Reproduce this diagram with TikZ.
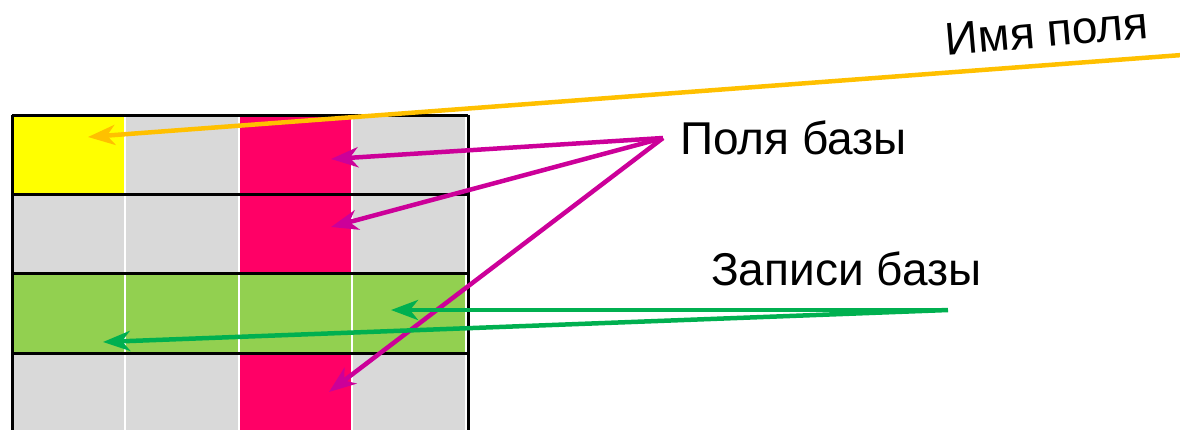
\documentclass[tikz,border=0pt]{standalone}
\usepackage{fontspec}
\setmainfont{Liberation Sans}
\usetikzlibrary{arrows.meta}
\definecolor{cgray}{HTML}{D9D9D9}
\definecolor{cyel}{HTML}{FFFF00}
\definecolor{cpink}{HTML}{FF0066}
\definecolor{cgreen}{HTML}{92D050}
\definecolor{corange}{HTML}{FFC000}
\definecolor{cmag}{HTML}{CC0099}
\definecolor{cgarrow}{HTML}{00B050}
\tikzset{
  cell/.style={draw=white, line width=2pt},
  rowline/.style={draw=black, line width=3pt},
  lbl/.style={inner sep=0pt, font=\fontsize{46pt}{50pt}\selectfont},
  tip/.style={-{Stealth[length=27pt, width=20pt, inset=8pt]}},
  oarr/.style={tip, draw=corange, line width=4.5pt},
  marr/.style={tip, draw=cmag, line width=4.5pt},
  garr/.style={tip, draw=cgarrow, line width=4.5pt},
}
\begin{document}
\begin{tikzpicture}[x=1pt, y=-1pt]
\useasboundingbox (0,0) rectangle (1180,429);
\clip (0,0) rectangle (1180,429);
% cells
\def\xa{12}\def\xb{125}\def\xc{239}\def\xd{352}\def\xe{466}
\def\ya{115}\def\yb{194}\def\yc{273}\def\yd{353}\def\ye{434}
% row 1
\path[cell, fill=cyel]  (\xa,\ya) rectangle (\xb,\yb);
\path[cell, fill=cgray] (\xb,\ya) rectangle (\xc,\yb);
\path[cell, fill=cpink] (\xc,\ya) rectangle (\xd,\yb);
\path[cell, fill=cgray] (\xd,\ya) rectangle (\xe,\yb);
% row 2
\path[cell, fill=cgray] (\xa,\yb) rectangle (\xb,\yc);
\path[cell, fill=cgray] (\xb,\yb) rectangle (\xc,\yc);
\path[cell, fill=cpink] (\xc,\yb) rectangle (\xd,\yc);
\path[cell, fill=cgray] (\xd,\yb) rectangle (\xe,\yc);
% row 3
\path[cell, fill=cgreen] (\xa,\yc) rectangle (\xb,\yd);
\path[cell, fill=cgreen] (\xb,\yc) rectangle (\xc,\yd);
\path[cell, fill=cgreen] (\xc,\yc) rectangle (\xd,\yd);
\path[cell, fill=cgreen] (\xd,\yc) rectangle (\xe,\yd);
% row 4
\path[cell, fill=cgray] (\xa,\yd) rectangle (\xb,\ye);
\path[cell, fill=cgray] (\xb,\yd) rectangle (\xc,\ye);
\path[cell, fill=cpink] (\xc,\yd) rectangle (\xd,\ye);
\path[cell, fill=cgray] (\xd,\yd) rectangle (\xe,\ye);
% black lines
\draw[rowline] (\xa,\ya) -- (468,\ya);
\draw[rowline] (\xa,\yb) -- (468,\yb);
\draw[rowline] (\xa,\yc) -- (468,\yc);
\draw[rowline] (\xa,\yd) -- (468,\yd);
\draw[rowline] (\xa,\ya) -- (\xa,440);
\draw[rowline] (468,\ya) -- (468,440);
% labels
\node[lbl, anchor=base, rotate=5] (name) at (1048,47) {Имя поля};
\node[lbl, anchor=base west] (fields) at (680,154) {Поля базы};
\node[lbl, anchor=base west] (recs) at (711,285) {Записи базы};
% arrow endpoints
\coordinate (os) at (1182,55);
\coordinate (ot) at (88,137);
\coordinate (ms) at (663,138);
\coordinate (mt1) at (331,159);
\coordinate (mt2) at (331,227);
\coordinate (mt3) at (329,392);
\coordinate (gs) at (948,310);
\coordinate (gt1) at (391,310);
\coordinate (gt2) at (103,342);
% arrows
\draw[oarr] (os) -- (ot);
\draw[marr] (ms) -- (mt1);
\draw[marr] (ms) -- (mt2);
\draw[marr] (ms) -- (mt3);
\draw[garr] (gs) -- (gt1);
\draw[garr] (gs) -- (gt2);
\end{tikzpicture}
\end{document}
